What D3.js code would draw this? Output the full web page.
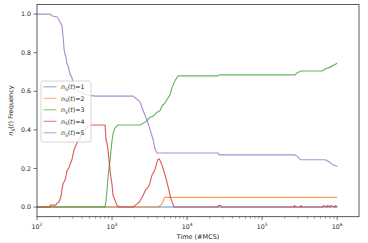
<!DOCTYPE html>
<html>
<head>
<meta charset="utf-8">
<script src="https://cdn.jsdelivr.net/npm/d3@7"></script>
<style>
  body { margin: 0; background: #fff; }
  text { font-family: "DejaVu Sans", sans-serif; fill: #262626; }
</style>
</head>
<body>
<div id="chart"></div>
<script>
(function(){
    // series: time (#MCS) and frequency
    const n1Time = [100, 1000000];
    const n1Freq = [0, 0];

    const n2Time = [100, 4200, 4400, 4600, 4800, 5000, 1000000];
    const n2Freq = [0, 0, 0.01, 0.015, 0.03, 0.05, 0.05];

    const n3Time = [100, 807, 830, 858, 885, 910, 940, 968, 1000, 1030, 1096, 1202, 2371, 2500, 2754, 2950,
        3200, 3500, 3740, 3950, 4365, 4650, 5100, 5450, 5900, 6300, 6900, 7600, 25880, 26700,
        275000, 290000, 330000, 630000, 690000, 800000, 1000000];
    const n3Freq = [0, 0, 0.03, 0.09, 0.155, 0.2, 0.24, 0.295, 0.345, 0.38, 0.41, 0.425, 0.425, 0.43, 0.44, 0.45,
        0.465, 0.47, 0.48, 0.49, 0.5, 0.525, 0.54, 0.56, 0.58, 0.62, 0.655, 0.68, 0.68, 0.685,
        0.685, 0.695, 0.705, 0.705, 0.715, 0.725, 0.745];

    const n4Time = [100, 149, 150, 178, 185, 195, 203, 210, 215, 222, 236, 245, 251, 265, 275, 292, 311, 330,
        352, 373, 395, 430, 480, 540, 807, 830, 858, 885, 910, 940, 968, 1000, 1030, 1096,
        1160, 1240, 1450, 1900, 2050, 2300, 2588, 2800, 3000, 3200, 3400, 3700, 3900, 4050, 4250,
        4500, 4700, 5000, 5300, 5700, 6000, 6700,
        25900, 26200, 28100, 28400, 265000, 268000, 272000, 275000, 325000, 328000, 334000, 337000,
        645000, 652000, 730000, 740000, 800000, 812000, 935000, 945000, 1000000];
    const n4Freq = [0, 0, 0.01, 0.01, 0.02, 0.025, 0.04, 0.06, 0.09, 0.12, 0.14, 0.165, 0.19, 0.2, 0.22, 0.245, 0.295, 0.32,
        0.345, 0.355, 0.385, 0.4, 0.42, 0.425, 0.425, 0.35, 0.33, 0.295, 0.245, 0.19, 0.15, 0.115, 0.06, 0.035,
        0.01, 0, 0, 0, 0.01, 0.025, 0.06, 0.09, 0.1, 0.125, 0.165, 0.19, 0.22, 0.245, 0.25,
        0.23, 0.21, 0.175, 0.14, 0.09, 0.05, 0,
        0, 0.008, 0.008, 0, 0, 0.008, 0.008, 0, 0, 0.008, 0.008, 0,
        0, 0.008, 0, 0.008, 0, 0.008, 0, 0.008, 0];

    const n5Time = [100, 149, 160, 185, 203, 215, 222, 229, 236, 243, 251, 260, 275, 292, 311, 330, 352, 395,
        479, 600, 1905, 2050, 2362, 2588, 2929, 3211, 3521, 3743, 3981, 25880, 26700,
        275000, 300000, 321000, 692000, 780000, 870000, 1000000];
    const n5Freq = [1.0, 1.0, 0.99, 0.985, 0.96, 0.94, 0.89, 0.82, 0.79, 0.78, 0.74, 0.73, 0.69, 0.67, 0.63, 0.62, 0.6, 0.59,
        0.58, 0.575, 0.575, 0.565, 0.545, 0.5, 0.45, 0.4, 0.35, 0.3, 0.28, 0.28, 0.27,
        0.27, 0.26, 0.245, 0.245, 0.235, 0.22, 0.21];

    const seriesNames = ['1', '2', '3', '4', '5'];
    const seriesColors = ['#1f77b4', '#ff7f0e', '#2ca02c', '#d62728', '#9467bd'];
    const yTicks = [0.0, 0.2, 0.4, 0.6, 0.8, 1.0];
    const xMajorTicks = [2, 3, 4, 5, 6];

    const series = [
        [n1Time, n1Freq], [n2Time, n2Freq], [n3Time, n3Freq], [n4Time, n4Freq], [n5Time, n5Freq]
    ].map((s, i) => ({
        name: seriesNames[i],
        color: seriesColors[i],
        values: s[0].map((t, j) => ({ t: t, f: s[1][j] }))
    }));

    const W = 368, H = 243;
    const margin = { top: 4.4, right: 9, bottom: 26.3, left: 37 };
    const width = W - margin.left - margin.right;
    const height = H - margin.top - margin.bottom;

    const svg = d3.select('#chart')
        .append('svg')
            .attr('width', W)
            .attr('height', H)
        .append('g')
            .attr('transform', `translate(${margin.left}, ${margin.top})`);

    const xScale = d3.scaleLog()
        .domain([100, Math.pow(10, 6.29)])
        .range([0, width]);

    const yScale = d3.scaleLinear()
        .domain([-0.05, 1.05])
        .range([height, 0]);

    // lines
    const line = d3.line()
        .x(d => xScale(d.t))
        .y(d => yScale(d.f));

    svg.append('g')
        .selectAll('path')
        .data(series)
        .enter()
        .append('path')
            .attr('d', d => line(d.values))
            .style('fill', 'none')
            .style('stroke', d => d.color)
            .style('stroke-width', 1.15)
            .style('stroke-opacity', 0.75)
            .style('stroke-linejoin', 'round');

    // frame
    svg.append('rect')
        .attr('width', width)
        .attr('height', height)
        .style('fill', 'none')
        .style('stroke', '#333')
        .style('stroke-width', 0.8);

    // x axis: majors with 10^n labels, minors without
    const minor = [];
    for (let e = 2; e <= 6; e++) {
        for (let k = 2; k <= 9; k++) {
            const v = k * Math.pow(10, e);
            if (v <= xScale.domain()[1]) minor.push(v);
        }
    }
    const xAxis = svg.append('g').attr('transform', `translate(0, ${height})`);
    xAxis.selectAll('.minor')
        .data(minor)
        .enter()
        .append('line')
            .attr('x1', d => xScale(d)).attr('x2', d => xScale(d))
            .attr('y1', 0).attr('y2', 2)
            .style('stroke', '#333').style('stroke-width', 0.5);
    const major = xAxis.selectAll('.major')
        .data(xMajorTicks)
        .enter()
        .append('g')
            .attr('transform', d => `translate(${xScale(Math.pow(10, d))}, 0)`);
    major.append('line')
        .attr('y2', 3.5)
        .style('stroke', '#333').style('stroke-width', 0.7);
    const lbl = major.append('text')
        .attr('y', 12)
        .attr('text-anchor', 'middle')
        .style('font-size', '6.3px');
    lbl.append('tspan').text('10');
    lbl.append('tspan').attr('dy', -3).style('font-size', '4.5px').text(d => d);

    svg.append('text')
        .attr('x', width / 2)
        .attr('y', height + 22.5)
        .attr('text-anchor', 'middle')
        .style('font-size', '6.5px')
        .text('Time (#MCS)');

    // y axis
    const yAxis = svg.append('g');
    const yt = yAxis.selectAll('g')
        .data(yTicks)
        .enter()
        .append('g')
            .attr('transform', d => `translate(0, ${yScale(d)})`);
    yt.append('line')
        .attr('x2', -3.5)
        .style('stroke', '#333').style('stroke-width', 0.7);
    yt.append('text')
        .attr('x', -6)
        .attr('dy', '0.35em')
        .attr('text-anchor', 'end')
        .style('font-size', '6.3px')
        .text(d => d3.format('.1f')(d));

    const yLabel = svg.append('text')
        .attr('transform', `translate(${-24}, ${height / 2}) rotate(-90)`)
        .attr('text-anchor', 'middle')
        .style('font-size', '6.5px');
    yLabel.append('tspan').style('font-style', 'italic').text('n');
    yLabel.append('tspan').attr('dy', 1.5).style('font-size', '4.6px').style('font-style', 'italic').text('S');
    yLabel.append('tspan').attr('dy', -1.5).text('(');
    yLabel.append('tspan').style('font-style', 'italic').text('t');
    yLabel.append('tspan').text(') Frequency');

    // legend
    const legend = svg.append('g')
        .attr('transform', `translate(${41 - margin.left}, ${81 - margin.top})`);
    legend.append('rect')
        .attr('width', 50)
        .attr('height', 61)
        .attr('rx', 2)
        .style('fill', '#fff')
        .style('fill-opacity', 0.8)
        .style('stroke', '#ccc')
        .style('stroke-width', 0.8);
    const item = legend.selectAll('.item')
        .data(series)
        .enter()
        .append('g')
            .attr('transform', (d, i) => `translate(0, ${5.8 + i * 11.5})`);
    item.append('line')
        .attr('x1', 2.5).attr('x2', 15.5)
        .style('stroke', d => d.color)
        .style('stroke-opacity', 0.6)
        .style('stroke-width', 1.1);
    const it = item.append('text')
        .attr('x', 20)
        .attr('dy', '0.35em')
        .style('font-size', '6.3px');
    it.append('tspan').style('font-style', 'italic').text('n');
    it.append('tspan').attr('dy', 1.5).style('font-size', '4.5px').style('font-style', 'italic').text('S');
    it.append('tspan').attr('dy', -1.5).text('(');
    it.append('tspan').style('font-style', 'italic').text('t');
    it.append('tspan').text(d => ')=' + d.name);
}());
</script>
</body>
</html>
